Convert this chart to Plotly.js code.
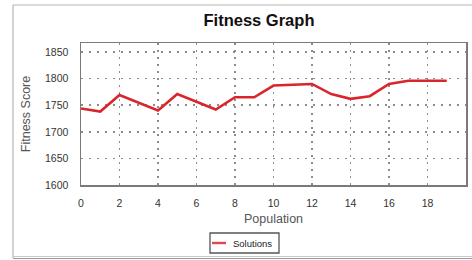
<!DOCTYPE html>
<html>
<head>
<meta charset="utf-8">
<script src="https://cdn.plot.ly/plotly-3.0.1.min.js"></script>
<style>html,body{margin:0;padding:0;background:#fff;}#chart{width:472px;height:260px;}</style>
</head>
<body>
<div id="chart"></div>
<script>
const population = [0,1,2,3,4,5,6,7,8,9,10,11,12,13,14,15,16,17,18,19];
const fitnessScore = [1744,1738,1769,1755,1740,1771,1757,1742,1765,1765,1787,1789,1790,1771,1762,1767,1790,1796,1796,1796];
const seriesName = "Solutions";
const xTicks = [0,2,4,6,8,10,12,14,16,18];
const yTicks = [1600,1650,1700,1750,1800,1850];

const W = 472, H = 260, L = 81, R = 6, T = 43, B = 75;
const pw = W - L - R, ph = H - T - B;
const px = v => (v - L) / pw;          // pixel x -> paper x
const py = v => (H - B - v) / ph;      // pixel y -> paper y

const font = "Liberation Sans, Arial, sans-serif";

const trace = {
  x: population, y: fitnessScore, name: seriesName, type: "scatter", mode: "lines",
  line: {color: "#d9252b", width: 2.6}, showlegend: false
};

const layout = {
  width: W, height: H,
  margin: {l: L, r: R, t: T, b: B},
  paper_bgcolor: "#ffffff", plot_bgcolor: "#ffffff",
  font: {family: font, color: "#333"},
  title: {text: "<b>Fitness Graph</b>", x: 259 / W, xanchor: "center", xref: "container",
          y: 1 - 20 / H, yanchor: "middle", yref: "container",
          font: {family: font, size: 16.5, color: "#111"}},
  xaxis: {range: [0, 20], tickvals: xTicks, ticktext: xTicks.map(String),
          showgrid: true, gridcolor: "#8c8c8c", griddash: "2px,5px", gridwidth: 1.5,
          zeroline: false, showline: true, mirror: true, linecolor: "#7a7a7a", linewidth: 1.5,
          ticks: "", ticklabelstandoff: 8,
          tickfont: {family: font, size: 10.5, color: "#333"},
          title: {text: "Population", standoff: 6, font: {family: font, size: 12.5, color: "#555"}},
          automargin: false},
  yaxis: {range: [1600, 1867], tickvals: yTicks, ticktext: yTicks.map(String),
          showgrid: true, gridcolor: "#8c8c8c", griddash: "2px,6px", gridwidth: 1.5,
          zeroline: false, showline: true, mirror: true, linecolor: "#7a7a7a", linewidth: 1.5,
          ticks: "", ticklabelstandoff: 9,
          tickfont: {family: font, size: 10.5, color: "#333"},
          title: {text: "Fitness Score", standoff: 11, font: {family: font, size: 12.5, color: "#555"}},
          automargin: false},
  shapes: [
    // outer frame
    {type: "line", xref: "paper", yref: "paper", x0: px(13), x1: px(13), y0: py(5), y1: py(258), line: {color: "#b5b5b5", width: 1.2}},
    {type: "line", xref: "paper", yref: "paper", x0: px(13), x1: px(480), y0: py(5), y1: py(5), line: {color: "#b5b5b5", width: 1.2}},
    {type: "line", xref: "paper", yref: "paper", x0: px(13), x1: px(480), y0: py(256.5), y1: py(256.5), line: {color: "#c8c8c8", width: 1}},
    {type: "line", xref: "paper", yref: "paper", x0: px(13), x1: px(480), y0: py(258.5), y1: py(258.5), line: {color: "#9a9a9a", width: 1.2}},
    // legend box
    {type: "rect", xref: "paper", yref: "paper", x0: px(210), x1: px(279), y0: py(253), y1: py(233), line: {color: "#555", width: 1.3}, fillcolor: "#fff"},
    {type: "line", xref: "paper", yref: "paper", x0: px(212), x1: px(226), y0: py(243), y1: py(243), line: {color: "#e0474c", width: 2.4}}
  ],
  annotations: [
    {text: seriesName, xref: "paper", yref: "paper", x: px(231), y: py(243), xanchor: "left", yanchor: "middle",
     showarrow: false, font: {family: font, size: 9.5, color: "#222"}}
  ]
};

Plotly.newPlot("chart", [trace], layout, {displayModeBar: false, staticPlot: true});
</script>
</body>
</html>
